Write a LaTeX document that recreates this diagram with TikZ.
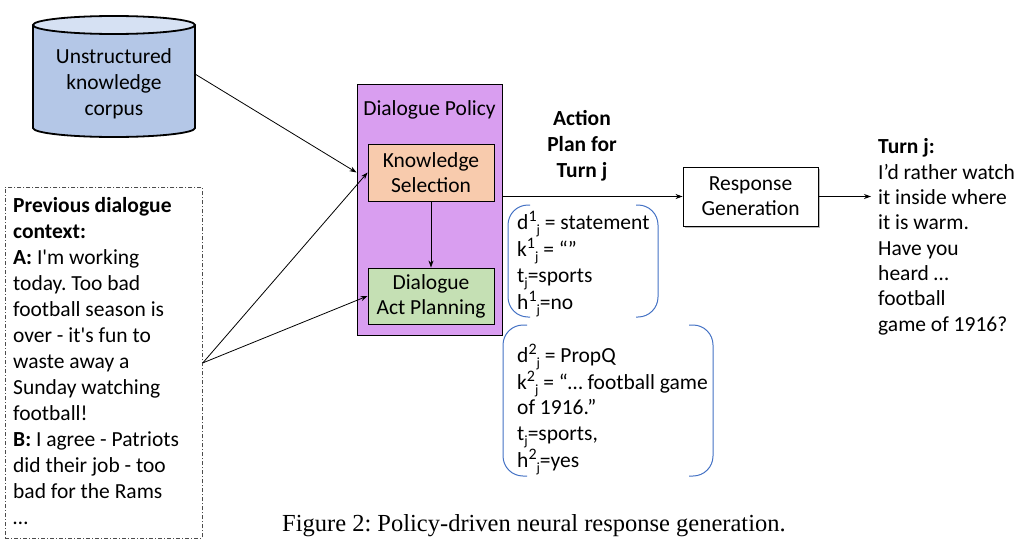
\documentclass[tikz,border=0pt]{standalone}
\usepackage{fontspec}
\setmainfont{Carlito}[Ligatures=TeXOff]
\newfontfamily\capfont{Liberation Serif}
\usetikzlibrary{arrows.meta,shadows}
\definecolor{polpurple}{RGB}{217,158,240}
\definecolor{kspeach}{RGB}{248,203,173}
\definecolor{dapgreen}{RGB}{197,224,180}
\definecolor{cylbody}{RGB}{180,199,231}
\definecolor{cyltop}{RGB}{214,225,243}
\definecolor{brblue}{RGB}{68,114,196}
\newcommand\myup[1]{\raisebox{0.36em}{\fontsize{16}{16}\selectfont #1}}
\newcommand\mydn[1]{\raisebox{-0.26em}{\fontsize{14}{14}\selectfont #1}}
\frenchspacing
\begin{document}
\begin{tikzpicture}[x=1pt,y=-1pt,
  txt/.style={font=\fontsize{21.5}{26}\selectfont, inner sep=0pt},
  boxa/.style={draw=black, line width=0.9pt, align=center, inner sep=0pt,
    font=\fontsize{21.5}{25}\selectfont},
  conn/.style={line width=0.8pt, -{Stealth[length=7pt,width=5pt]}},
  bracket/.style={draw=brblue, line width=1pt, rounded corners=20pt},
  cylline/.style={draw=black, line width=1.8pt}
]
\useasboundingbox (0,0) rectangle (1027,546);

% cylinder
\fill[cylbody] (33,25) -- (33,128) arc[start angle=180,end angle=0,x radius=81,y radius=9] -- (195,25) -- cycle;
\draw[cylline] (33,25) -- (33,128) arc[start angle=180,end angle=0,x radius=81,y radius=9] -- (195,25);
\draw[cylline, fill=cyltop] (114,25) ellipse[x radius=81,y radius=9];
\node[txt, align=center, anchor=north] (corpus) at (114,44.8) {\strut Unstructured\\knowledge\\corpus};
\coordinate (corpusR) at (195,74);

% context box
\node[draw=black!70, line width=0.8pt, dash pattern=on 4pt off 2pt on 1pt off 2pt,
  minimum width=197pt, minimum height=351pt, anchor=north west, inner sep=0pt] (ctx) at (5,187) {};
\node[txt, align=left, anchor=north west] (ctxtext) at (13,193.8) {\strut\textbf{Previous dialogue}\\
\textbf{context:}\\
\textbf{A:} I'm working\\
today. Too bad\\
football season is\\
over - it's fun to\\
waste away a\\
Sunday watching\\
football!\\
\textbf{B:} I agree - Patriots\\
did their job - too\\
bad for the Rams\\
…};

% policy
\node[boxa, fill=polpurple, minimum width=145pt, minimum height=251pt] (policy) at (429.5,209.5) {};
\node[txt, anchor=north] (poltitle) at (429.5,96.8) {\strut Dialogue Policy};
\node[boxa, fill=kspeach, minimum width=126pt, minimum height=57pt] (ks) at (431,172.5) {Knowledge\\Selection};
\node[boxa, fill=dapgreen, minimum width=126pt, minimum height=56pt] (dap) at (431,296) {Dialogue\\Act Planning};

% response generation
\node[boxa, fill=white, minimum width=135pt, minimum height=59pt,
  drop shadow={shadow xshift=1.5pt,shadow yshift=-1.5pt,fill=black!45,opacity=0.6}] (rg) at (750.5,196.5) {Response\\Generation};

% action plan label
\node[txt, align=center, anchor=north, font=\fontsize{21.5}{26}\selectfont\bfseries] (aplabel) at (582,106.8) {\strut Action\\Plan for\\Turn j};

% output text
\node[txt, align=left, anchor=north west, font=\fontsize{21.5}{25.3}\selectfont] (out) at (878,136) {\strut\textbf{Turn j:}\\
I’d rather watch\\
it inside where\\
it is warm.\\
Have you\\
heard …\\
football\\
game of 1916?};

% bracket 1
\node[txt, align=left, anchor=north west, font=\fontsize{21.5}{26}\selectfont] (b1) at (517,210.8) {\strut d\myup{1}\mydn{j} = statement\\
k\myup{1}\mydn{j} = “”\\
t\mydn{j}=sports\\
h\myup{1}\mydn{j}=no};
\draw[bracket] (530,205) -- (508,205) -- (508,317) -- (530,317);
\draw[bracket] (636,205) -- (658,205) -- (658,317) -- (636,317);

% bracket 2
\node[txt, align=left, anchor=north west, font=\fontsize{21.5}{25.5}\selectfont] (b2) at (517,343.8) {\strut d\myup{2}\mydn{j} = PropQ\\
k\myup{2}\mydn{j} = “… football game\\
of 1916.”\\
t\mydn{j}=sports,\\
h\myup{2}\mydn{j}=yes};
\draw[bracket] (527,325) -- (503,325) -- (503,476) -- (527,476);
\draw[bracket] (689,325) -- (713,325) -- (713,476) -- (689,476);

% connectors
\draw[conn] (corpusR) -- (policy.west |- ks.west);
\draw[conn] (ctx.east) -- (ks.west);
\draw[conn] (ctx.east) -- (dap.west);
\draw[conn] (ks.south) -- (dap.north);
\draw[conn] (policy.east |- rg.west) -- (rg.west);
\draw[conn, shorten >=7pt] (rg.east) -- (rg.east -| out.west);

% caption
\node[inner sep=0pt, anchor=base west, font=\capfont\fontsize{24.5}{28}\selectfont] (caption) at (282,531) {Figure 2: Policy-driven neural response generation.};
\end{tikzpicture}
\end{document}
